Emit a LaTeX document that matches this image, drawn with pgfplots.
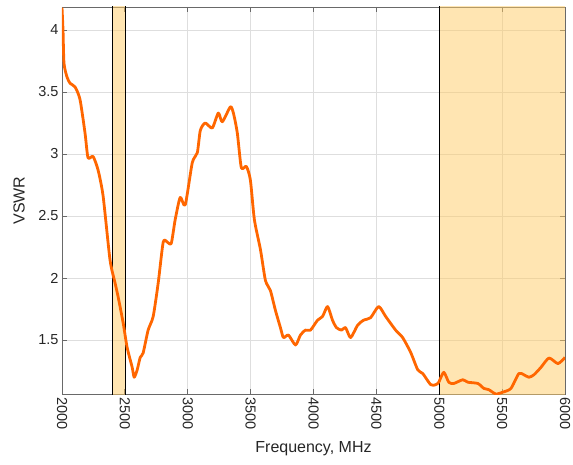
\documentclass[border=0pt]{standalone}
\usepackage{fontspec}
\setmainfont{Liberation Sans}
\usepackage{pgfplots}
\pgfplotsset{compat=1.18}
\definecolor{txt}{RGB}{38,38,38}
\definecolor{axc}{RGB}{105,105,105}
\definecolor{gridc}{RGB}{222,222,222}
\definecolor{band}{RGB}{255,204,102}
\definecolor{curve}{RGB}{255,102,0}
\begin{document}
\begin{tikzpicture}[x=1pt,y=1pt]
\path[use as bounding box] (-62,-70) rectangle (511,394);
\begin{axis}[
 at={(0,0)}, anchor=south west,
 width=503pt, height=387pt, scale only axis,
 xmin=2000, xmax=6000, ymin=1.065, ymax=4.185,
 xtick={2000,2500,...,6000}, ytick={1.5,2,2.5,3,3.5,4},
 grid=major, major grid style={gridc, line width=0.6pt},
 axis line style={axc, line width=0.8pt},
 tick style={axc, line width=0.8pt},
 tick align=inside, major tick length=5pt,
 xticklabel style={rotate=-90, anchor=west, font=\fontsize{14.5}{17}\selectfont, text=txt},
 yticklabel style={font=\fontsize{14.5}{17}\selectfont, text=txt},
 /pgf/number format/assume math mode=true,
 /pgf/number format/1000 sep={},
 scaled ticks=false,
 xlabel={Frequency, MHz}, ylabel={VSWR},
 label style={font=\fontsize{16}{19}\selectfont, text=txt},
 xlabel style={at={(axis description cs:0.5,-0.14)}, anchor=center},
 ylabel style={at={(axis description cs:-0.085,0.5)}, anchor=center},
 clip=true,
]
\addplot[draw=none, fill=band, fill opacity=0.5] coordinates {(2400,1)(2500,1)(2500,5)(2400,5)} -- cycle;
\addplot[draw=none, fill=band, fill opacity=0.5] coordinates {(5000,1)(6000,1)(6000,5)(5000,5)} -- cycle;
\addplot[black, line width=0.7pt] coordinates {(2400,1)(2400,5)};
\addplot[black, line width=0.7pt] coordinates {(2500,1)(2500,5)};
\addplot[black, line width=0.7pt] coordinates {(5000,1)(5000,5)};
\addplot[curve, line width=2.8pt, line join=round, smooth, tension=0.4] coordinates {
(2000,4.18)(2008,4.0)(2016,3.73)(2040,3.62)(2064,3.57)(2104,3.54)(2143,3.44)(2183,3.17)
(2207,2.97)(2247,2.98)(2287,2.87)(2327,2.66)(2382,2.145)(2422,1.96)(2446,1.85)(2486,1.64)
(2518,1.44)(2558,1.28)(2574,1.20)(2598,1.26)(2622,1.36)(2645,1.395)(2685,1.58)(2725,1.69)
(2765,1.96)(2805,2.29)(2837,2.29)(2869,2.28)(2900,2.47)(2940,2.65)(2980,2.59)(3036,2.93)
(3076,3.01)(3100,3.19)(3139,3.25)(3195,3.21)(3243,3.33)(3275,3.26)(3339,3.38)(3363,3.33)
(3394,3.17)(3426,2.89)(3466,2.90)(3498,2.79)(3530,2.47)(3578,2.23)(3618,1.98)(3657,1.90)
(3697,1.74)(3737,1.60)(3761,1.52)(3801,1.54)(3857,1.46)(3896,1.54)(3936,1.58)(3976,1.58)
(4032,1.66)(4072,1.69)(4112,1.77)(4151,1.66)(4183,1.60)(4223,1.58)(4255,1.60)(4295,1.52)
(4351,1.62)(4398,1.66)(4454,1.68)(4518,1.77)(4574,1.69)(4653,1.58)(4709,1.52)(4773,1.40)
(4829,1.26)(4869,1.23)(4932,1.14)(4972,1.14)(4996,1.16)(5036,1.24)(5076,1.16)(5116,1.15)
(5187,1.18)(5227,1.16)(5307,1.15)(5355,1.11)(5394,1.10)(5450,1.065)(5506,1.08)(5570,1.11)
(5633,1.23)(5673,1.22)(5713,1.20)(5753,1.22)(5809,1.28)(5873,1.355)(5944,1.31)(6000,1.36)
};
\end{axis}
\end{tikzpicture}
\end{document}
